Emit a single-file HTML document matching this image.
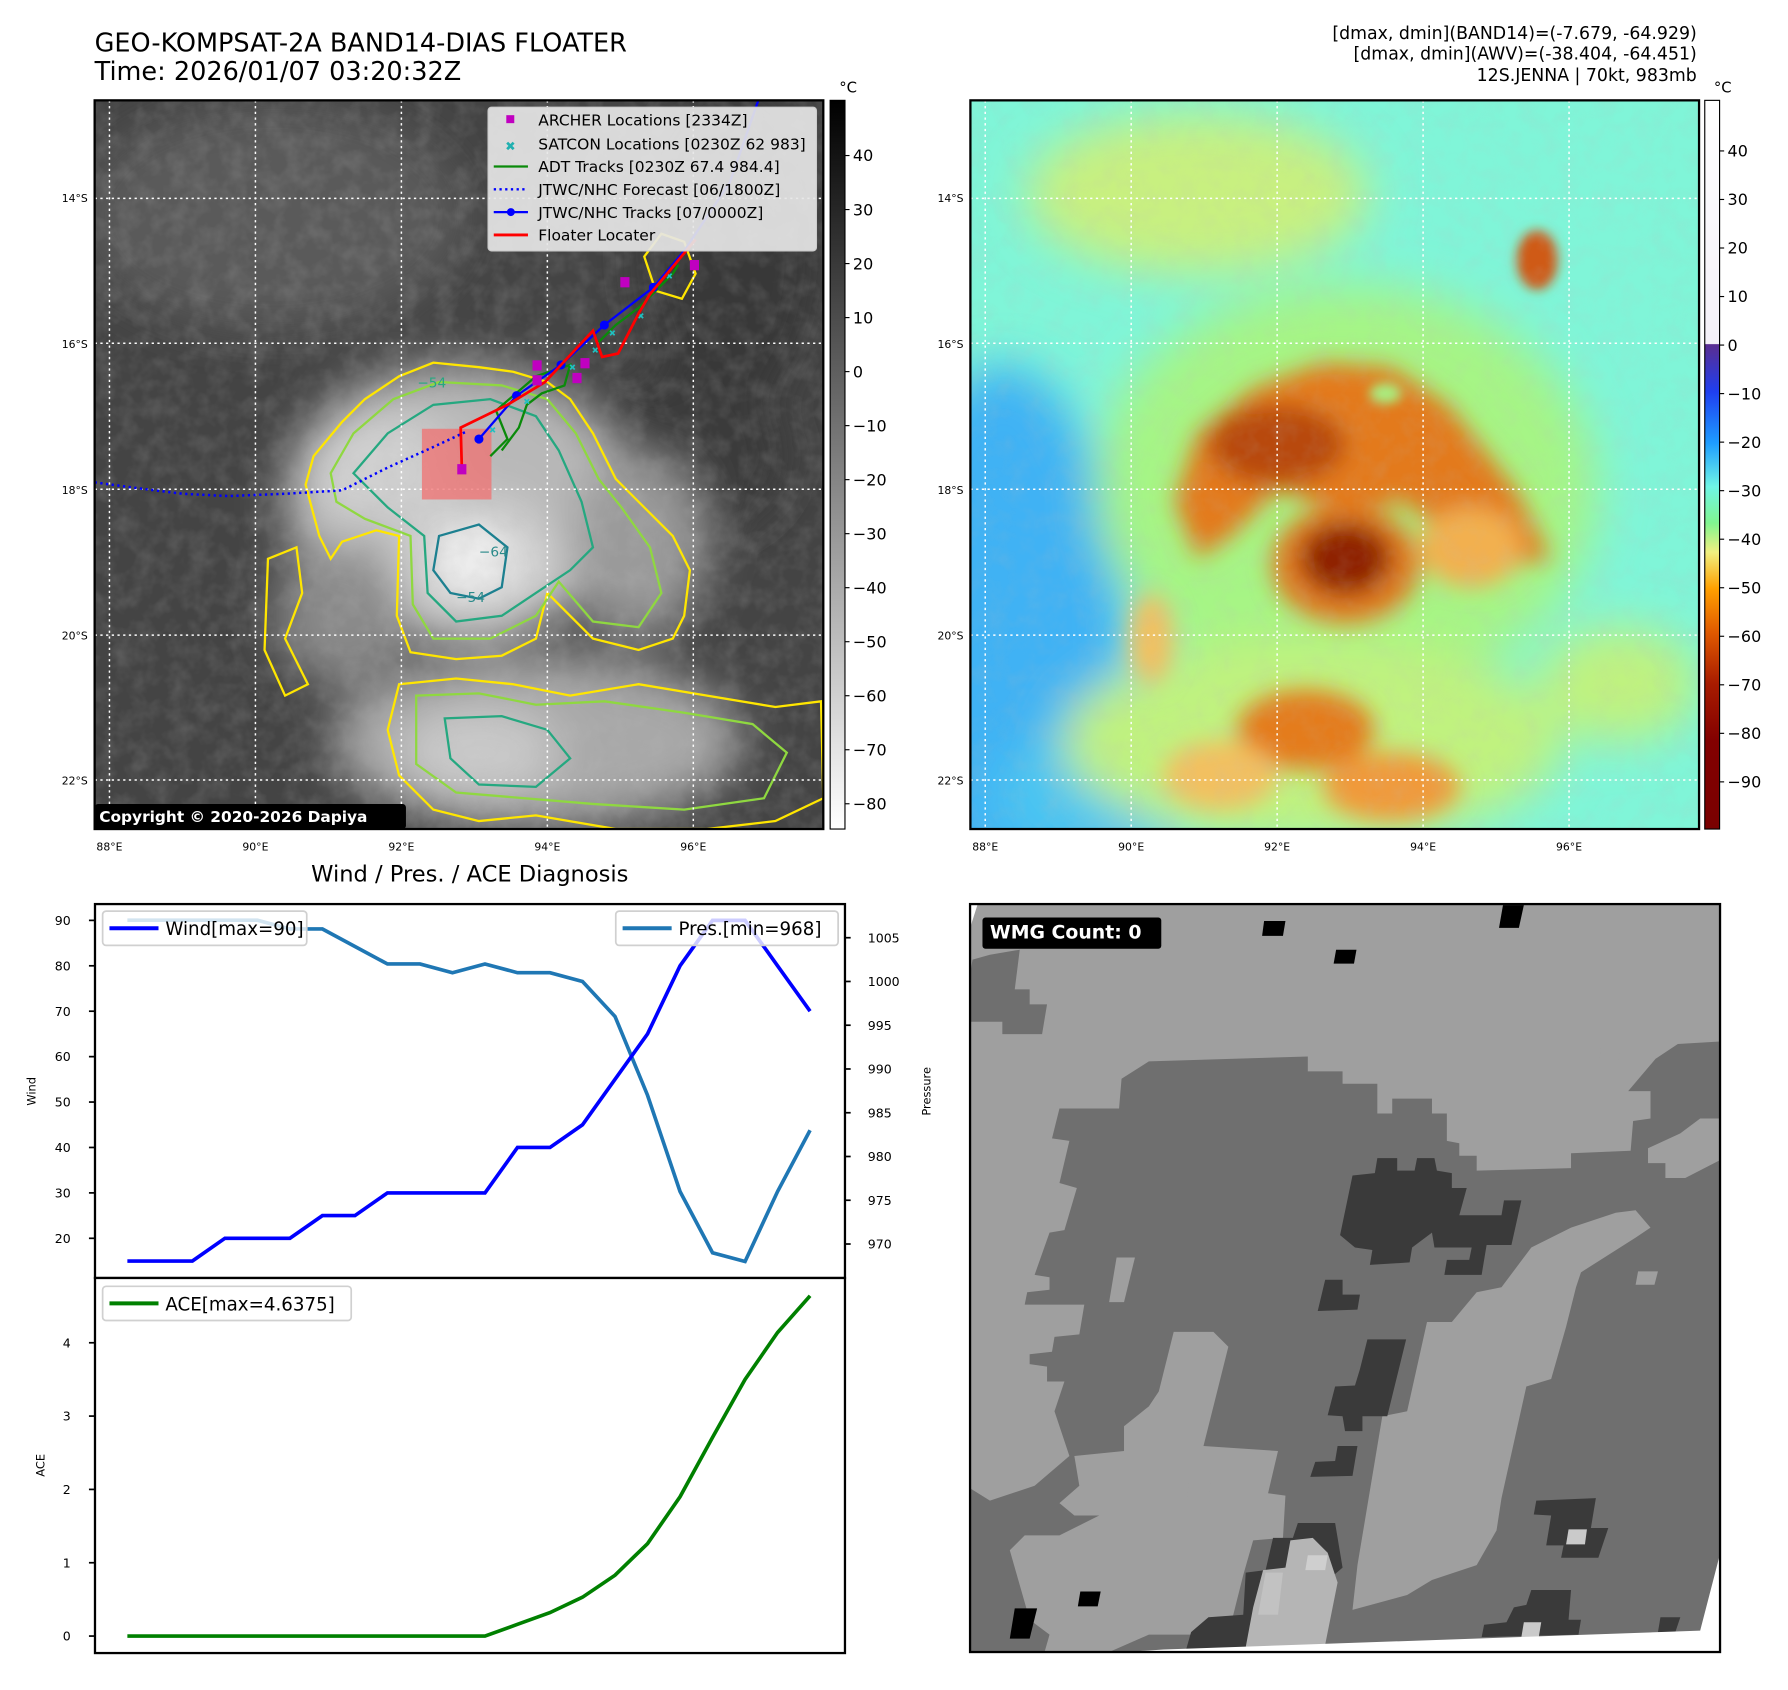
<!DOCTYPE html>
<html><head><meta charset="utf-8">
<style>
html,body{margin:0;padding:0;background:#fff;}
svg{display:block;font-family:"DejaVu Sans","Liberation Sans",sans-serif;}
</style></head>
<body>
<svg id="root" width="1788" height="1690" viewBox="0 0 1568 1482" preserveAspectRatio="none" xmlns="http://www.w3.org/2000/svg">
<defs>
 <filter id="b20" x="-50%" y="-50%" width="200%" height="200%"><feGaussianBlur stdDeviation="20"/></filter>
 <filter id="b10" x="-50%" y="-50%" width="200%" height="200%"><feGaussianBlur stdDeviation="10"/></filter>
 <filter id="b5" x="-50%" y="-50%" width="200%" height="200%"><feGaussianBlur stdDeviation="5"/></filter>
 <filter id="tex"><feTurbulence type="fractalNoise" baseFrequency="0.06" numOctaves="3" seed="4"/><feColorMatrix type="matrix" values="0 0 0 0 0.5 0 0 0 0 0.5 0 0 0 0 0.5 0 0 0 1.2 -0.45"/></filter>
 <clipPath id="c1"><rect x="83" y="88" width="639" height="639"/></clipPath>
 <clipPath id="c2"><rect x="851" y="88" width="639" height="639"/></clipPath>
 <linearGradient id="gcb1" x1="0" y1="0" x2="0" y2="1"><stop offset="0" stop-color="#000"/><stop offset="1" stop-color="#fff"/></linearGradient>
 <linearGradient id="gcb2" x1="0" y1="0" x2="0" y2="1">
  <stop offset="0" stop-color="#ffffff"/><stop offset="0.334" stop-color="#f4f0f8"/>
  <stop offset="0.335" stop-color="#5a2d91"/><stop offset="0.40" stop-color="#1f3ff0"/>
  <stop offset="0.47" stop-color="#1e9cff"/><stop offset="0.53" stop-color="#6ff5e6"/>
  <stop offset="0.58" stop-color="#80f590"/><stop offset="0.62" stop-color="#f0f080"/>
  <stop offset="0.67" stop-color="#ffa000"/><stop offset="0.73" stop-color="#e05a00"/>
  <stop offset="0.80" stop-color="#a81c00"/><stop offset="0.88" stop-color="#820000"/><stop offset="1" stop-color="#7a0000"/>
 </linearGradient>
</defs>

<text x="83" y="45" font-size="22.4" fill="#000">GEO-KOMPSAT-2A BAND14-DIAS FLOATER</text>
<text x="83" y="70" font-size="22.4" fill="#000">Time: 2026/01/07 03:20:32Z</text>
<g font-size="15.2" text-anchor="end">
 <text x="1488" y="34">[dmax, dmin](BAND14)=(-7.679, -64.929)</text>
 <text x="1488" y="52">[dmax, dmin](AWV)=(-38.404, -64.451)</text>
 <text x="1488" y="71">12S.JENNA | 70kt, 983mb</text>
</g>

<g clip-path="url(#c1)">
 <rect x="83" y="88" width="639" height="639" fill="#444"/>
 <g filter="url(#b20)">
  <ellipse cx="240" cy="190" rx="170" ry="100" fill="#5a5a5a"/>
  <ellipse cx="640" cy="220" rx="80" ry="140" fill="#383838"/>
  <ellipse cx="600" cy="400" rx="90" ry="70" fill="#3a3a3a"/>
  <ellipse cx="400" cy="440" rx="150" ry="120" fill="#b8b8b8"/>
  <ellipse cx="330" cy="410" rx="70" ry="50" fill="#d0d0d0"/>
  <ellipse cx="420" cy="500" rx="70" ry="60" fill="#d8d8d8"/>
  <ellipse cx="560" cy="480" rx="60" ry="80" fill="#9a9a9a"/>
  <ellipse cx="300" cy="540" rx="60" ry="60" fill="#8a8a8a"/>
  <ellipse cx="470" cy="650" rx="180" ry="75" fill="#a8a8a8"/>
  <ellipse cx="420" cy="660" rx="70" ry="40" fill="#cacaca"/>
 </g>
 <ellipse cx="415" cy="490" rx="30" ry="28" fill="#ececec" filter="url(#b10)"/>
 <rect x="83" y="88" width="639" height="639" filter="url(#tex)" opacity="0.3"/>
 <g fill="none" stroke-width="2">
  <path d="M268,425 L275,400 L300,370 L320,350 L350,330 L380,318 L420,322 L450,326 L480,335 L500,350 L520,380 L540,420 L560,440 L590,470 L605,500 L600,540 L590,560 L560,570 L520,560 L500,540 L480,520 L470,560 L440,575 L400,578 L360,572 L348,540 L350,470 L330,465 L300,475 L290,490 L280,470 Z" stroke="#ffe600"/>
  <path d="M290,415 L310,380 L345,350 L385,335 L440,338 L480,350 L505,380 L525,420 L545,445 L570,480 L580,520 L560,550 L520,545 L490,510 L470,540 L430,560 L380,560 L362,530 L360,470 L320,455 L295,440 Z" stroke="#8fd840"/>
  <path d="M310,415 L340,380 L380,355 L430,350 L470,365 L490,395 L510,440 L520,480 L500,500 L470,520 L440,540 L400,545 L375,520 L372,470 L340,445 Z" stroke="#25a880"/>
  <path d="M385,470 L420,460 L445,480 L440,515 L420,525 L395,520 L380,500 Z" stroke="#1c8090"/>
  <path d="M235,490 L260,480 L265,520 L250,560 L270,600 L250,610 L232,570 Z" stroke="#ffe600"/>
  <path d="M350,600 L400,595 L450,600 L500,610 L560,600 L620,610 L680,620 L720,615 L722,700 L680,720 L620,727 L540,727 L470,715 L420,720 L380,710 L350,680 L340,640 Z" stroke="#ffe600"/>
  <path d="M365,610 L420,608 L470,618 L530,615 L600,625 L660,635 L690,660 L670,700 L600,710 L520,705 L460,700 L400,695 L365,670 Z" stroke="#8fd840"/>
  <path d="M390,630 L440,628 L480,640 L500,665 L470,690 L420,688 L395,665 Z" stroke="#25a880"/>
  <path d="M565,225 L580,205 L600,212 L610,240 L598,262 L575,255 Z" stroke="#ffe600"/>
 </g>
 <g font-size="12" fill="#2a8a8a"><text x="420" y="488">−64</text><text x="400" y="528">−54</text><text x="366" y="340" fill="#25a880">−54</text></g>
 <g stroke="#fff" stroke-width="1.3" stroke-dasharray="2,3">
  <line x1="96" y1="88" x2="96" y2="727"/><line x1="224" y1="88" x2="224" y2="727"/><line x1="352" y1="88" x2="352" y2="727"/><line x1="480" y1="88" x2="480" y2="727"/><line x1="608" y1="88" x2="608" y2="727"/>
  <line x1="83" y1="174" x2="722" y2="174"/><line x1="83" y1="301" x2="722" y2="301"/><line x1="83" y1="429" x2="722" y2="429"/><line x1="83" y1="557" x2="722" y2="557"/><line x1="83" y1="684" x2="722" y2="684"/>
 </g>
 <rect x="370" y="376" width="61" height="62" fill="#f07070" opacity="0.75"/>
 <polyline points="83,423 120,428 160,433 200,435 250,433 300,430 340,410 380,392 410,378" fill="none" stroke="#0000ff" stroke-width="2.2" stroke-dasharray="2,3"/>
 <polyline points="430,400 445,385 435,360 470,330 500,320 495,338 475,345 462,355 455,375 440,395" fill="none" stroke="#0a8a0a" stroke-width="2"/>
 <polyline points="525,300 540,285 560,270 575,255 590,240 595,232" fill="none" stroke="#0a8a0a" stroke-width="2"/>
 <g stroke="#20c0c0" stroke-width="1.5">
  <path d="M430,375 l4,4 m0,-4 l-4,4 M470,335 l4,4 m0,-4 l-4,4 M500,320 l4,4 m0,-4 l-4,4 M520,305 l4,4 m0,-4 l-4,4 M535,290 l4,4 m0,-4 l-4,4 M560,275 l4,4 m0,-4 l-4,4 M585,240 l4,4 m0,-4 l-4,4 M460,350 l4,4 m0,-4 l-4,4"/>
 </g>
 <polyline points="420,385 453,347 492,320 530,285 573,252 600,220 640,160 665,88" fill="none" stroke="#0000ff" stroke-width="2"/>
 <g fill="#0000ff"><circle cx="420" cy="385" r="4"/><circle cx="453" cy="347" r="4"/><circle cx="492" cy="320" r="4"/><circle cx="530" cy="285" r="4"/><circle cx="573" cy="252" r="4"/></g>
 <polyline points="405,410 404,375 445,355 478,335 520,290 528,313 542,310 560,275 570,258 575,252 595,228 610,210" fill="none" stroke="#ff0000" stroke-width="2.4"/>
 <g fill="#c000c0">
  <rect x="544" y="243" width="8" height="9"/><rect x="605" y="228" width="8" height="9"/><rect x="467" y="316" width="8" height="9"/><rect x="467" y="329" width="8" height="9"/><rect x="502" y="327" width="8" height="9"/><rect x="509" y="314" width="8" height="9"/><rect x="401" y="407" width="8" height="9"/>
 </g>
 <g>
  <rect x="428" y="94" width="288" height="126" rx="3" fill="#e6e6e6" fill-opacity="0.92" stroke="#cccccc"/>
  <g font-size="13.6" fill="#000">
   <rect x="444" y="101" width="7" height="7" fill="#c000c0"/><text x="472" y="110">ARCHER Locations [2334Z]</text>
   <text x="443" y="132" fill="#20b0b0" font-size="11">✖</text><text x="472" y="131">SATCON Locations [0230Z 62 983]</text>
   <line x1="433" y1="146" x2="463" y2="146" stroke="#0a8a0a" stroke-width="2"/><text x="472" y="151">ADT Tracks [0230Z 67.4 984.4]</text>
   <line x1="433" y1="166" x2="463" y2="166" stroke="#0000ff" stroke-width="2" stroke-dasharray="2,3"/><text x="472" y="171">JTWC/NHC Forecast [06/1800Z]</text>
   <line x1="433" y1="186" x2="463" y2="186" stroke="#0000ff" stroke-width="2"/><circle cx="448" cy="186" r="3.5" fill="#0000ff"/><text x="472" y="191">JTWC/NHC Tracks [07/0000Z]</text>
   <line x1="433" y1="206" x2="463" y2="206" stroke="#ff0000" stroke-width="2.5"/><text x="472" y="211">Floater Locater</text>
  </g>
 </g>
 <rect x="83" y="705" width="273" height="22" rx="3" fill="#000"/>
 <text x="87" y="721" font-size="13.5" font-weight="bold" fill="#fff">Copyright © 2020-2026 Dapiya</text>
</g>
<rect x="83" y="88" width="639" height="639" fill="none" stroke="#000" stroke-width="2"/>

<g clip-path="url(#c2)">
 <rect x="851" y="88" width="639" height="639" fill="#80f5d8"/>
 <g filter="url(#b20)">
  <ellipse cx="880" cy="600" rx="110" ry="280" fill="#3fb2f4"/>
  <ellipse cx="960" cy="700" rx="90" ry="60" fill="#4ac4f2"/>
  <ellipse cx="1050" cy="170" rx="150" ry="70" fill="#c8f080"/>
  <ellipse cx="1180" cy="430" rx="220" ry="180" fill="#a6f585"/>
  <ellipse cx="1150" cy="650" rx="220" ry="90" fill="#c0f27f"/>
  <ellipse cx="1420" cy="600" rx="70" ry="50" fill="#c0f27f"/>
 </g>
 <g filter="url(#b10)">
  <path d="M1030,440 L1050,380 L1100,340 L1160,318 L1220,322 L1270,355 L1330,430 L1360,490 L1300,500 L1270,470 L1230,440 L1180,450 L1120,430 L1080,470 L1050,490 Z" fill="#e37a1c"/>
  <ellipse cx="1180" cy="495" rx="65" ry="52" fill="#e07a20"/>
  <ellipse cx="1120" cy="390" rx="60" ry="35" fill="#b84a10"/>
  <ellipse cx="1180" cy="490" rx="40" ry="32" fill="#8f2204"/>
  <ellipse cx="1145" cy="640" rx="60" ry="35" fill="#e47c1e"/>
  <ellipse cx="1220" cy="690" rx="60" ry="30" fill="#f09a3a"/>
  <ellipse cx="1070" cy="680" rx="50" ry="30" fill="#f2c060"/>
  <ellipse cx="1010" cy="560" rx="20" ry="40" fill="#f2c060"/>
  <ellipse cx="1290" cy="480" rx="45" ry="35" fill="#f2b050"/>
 </g>
 <ellipse cx="1348" cy="228" rx="18" ry="26" fill="#cf5a12" filter="url(#b5)"/>
 <ellipse cx="1215" cy="345" rx="14" ry="9" fill="#a8f080" filter="url(#b5)"/>
 <rect x="851" y="88" width="639" height="639" filter="url(#tex)" opacity="0.2"/>
 <g stroke="#fff" stroke-width="1.3" stroke-dasharray="2,3">
  <line x1="864" y1="88" x2="864" y2="727"/><line x1="992" y1="88" x2="992" y2="727"/><line x1="1120" y1="88" x2="1120" y2="727"/><line x1="1248" y1="88" x2="1248" y2="727"/><line x1="1376" y1="88" x2="1376" y2="727"/>
  <line x1="851" y1="174" x2="1490" y2="174"/><line x1="851" y1="301" x2="1490" y2="301"/><line x1="851" y1="429" x2="1490" y2="429"/><line x1="851" y1="557" x2="1490" y2="557"/><line x1="851" y1="684" x2="1490" y2="684"/>
 </g>
</g>
<rect x="851" y="88" width="639" height="639" fill="none" stroke="#000" stroke-width="2"/>

<g font-size="9.5" fill="#000">
 <g text-anchor="end"><text x="77" y="177">14°S</text><text x="77" y="305">16°S</text><text x="77" y="433">18°S</text><text x="77" y="561">20°S</text><text x="77" y="688">22°S</text>
 <text x="845" y="177">14°S</text><text x="845" y="305">16°S</text><text x="845" y="433">18°S</text><text x="845" y="561">20°S</text><text x="845" y="688">22°S</text></g>
 <g text-anchor="middle"><text x="96" y="746">88°E</text><text x="224" y="746">90°E</text><text x="352" y="746">92°E</text><text x="480" y="746">94°E</text><text x="608" y="746">96°E</text>
 <text x="864" y="746">88°E</text><text x="992" y="746">90°E</text><text x="1120" y="746">92°E</text><text x="1248" y="746">94°E</text><text x="1376" y="746">96°E</text></g>
</g>

<g>
 <rect x="728" y="88" width="13" height="639" fill="url(#gcb1)" stroke="#000" stroke-width="1"/>
 <text x="736" y="81" font-size="13">°C</text>
 <g id="cb1ticks" font-size="14"></g>
</g>
<g>
 <rect x="1495" y="88" width="13" height="639" fill="url(#gcb2)" stroke="#000" stroke-width="1"/>
 <text x="1503" y="81" font-size="13">°C</text>
 <g id="cb2ticks" font-size="14"></g>
</g>

<text x="412" y="773" font-size="19.8" text-anchor="middle">Wind / Pres. / ACE Diagnosis</text>
<g id="chart"></g>

<svg x="850.7" y="792.8" width="657.7" height="655.9" viewBox="20 28 1510 1507" preserveAspectRatio="none">
 <rect x="20" y="28" width="1510" height="1507" fill="#6f6f6f"/>
 <g fill="#9f9f9f">
  <polygon points="20,28 1530,28 1530,305 1445,310 1400,340 1345,405 1390,405 1390,460 1355,465 1350,525 1230,530 1230,560 1040,565 1040,535 1005,535 1005,510 980,505 980,450 950,450 950,420 870,420 870,450 840,450 840,390 770,390 770,365 700,365 700,335 380,345 325,380 320,440 200,440 185,500 220,505 200,590 235,600 210,685 180,690 150,775 180,780 180,805 135,810 130,835 250,835 240,895 190,900 185,930 140,935 140,955 175,960 175,990 210,990 190,1050 220,1140 150,1200 60,1230 20,1205 20,265 85,265 85,290 165,290 175,230 140,230 140,200 110,200 120,120 60,130 25,140 20,170"/>
  <polygon points="230,1140 330,1130 330,1080 380,1040 400,1010 430,890 510,890 540,920 490,1120 640,1130 620,1215 655,1220 650,1305 590,1310 570,1380 540,1500 380,1500 300,1535 170,1535 180,1500 140,1470 100,1330 130,1300 200,1300 280,1260 230,1260 200,1235 240,1200"/>
  <polygon points="940,870 990,870 1040,810 1090,800 1150,720 1230,680 1320,650 1360,645 1390,680 1360,700 1250,770 1240,800 1220,880 1190,985 1140,1000 1090,1225 1080,1290 1040,1360 950,1390 900,1420 790,1450 800,1360 850,1060 900,1050"/>
  <polygon points="1385,520 1450,490 1490,460 1528,460 1528,545 1460,580 1420,580 1420,550 1385,550"/>
  <polygon points="1290,315 1330,315 1325,342 1287,342"/><polygon points="1365,768 1405,768 1398,795 1360,795"/>
  <polygon points="460,1195 505,1195 500,1222 457,1222"/><polygon points="315,740 352,740 330,830 300,830"/>
 </g>
 <g fill="#3a3a3a">
  <polygon points="790,575 835,570 840,540 880,540 880,565 915,565 920,540 955,540 960,565 990,570 990,600 1020,600 1005,655 1090,655 1095,625 1130,625 1110,715 1060,715 1050,775 975,775 980,745 1025,745 1030,720 955,720 950,690 910,720 905,750 825,755 830,725 795,720 765,695"/>
  <polygon points="735,785 770,785 770,815 805,815 800,845 720,848"/>
  <polygon points="820,905 898,905 860,1060 810,1060 810,1090 775,1090 770,1060 740,1058 755,1000 795,998 805,965"/>
  <polygon points="760,1120 800,1120 790,1180 705,1182 715,1152 755,1150"/>
  <polygon points="680,1275 755,1275 770,1365 735,1395 730,1520 560,1530 455,1530 465,1495 500,1465 570,1460 575,1375 615,1370 630,1305 670,1305"/>
  <polygon points="1160,1230 1280,1225 1270,1285 1305,1285 1285,1345 1210,1345 1215,1320 1180,1320 1190,1260 1155,1258"/>
  <polygon points="1150,1410 1230,1410 1225,1470 1250,1470 1245,1500 1050,1505 1055,1480 1100,1475 1115,1445 1140,1440"/>
  <polygon points="1410,1465 1450,1465 1440,1495 1405,1495"/>
 </g>
 <polygon points="665,1310 710,1305 740,1335 760,1395 735,1520 575,1525 590,1445 610,1370 655,1365" fill="#b5b5b5"/>
 <polygon points="700,1340 740,1340 735,1370 695,1370" fill="#cfcfcf"/><polygon points="615,1375 650,1375 640,1460 600,1460" fill="#c2c2c2"/>
 <polygon points="1225,1288 1262,1288 1258,1318 1220,1318" fill="#cacaca"/><polygon points="1135,1475 1170,1475 1165,1505 1130,1505" fill="#cacaca"/>
 <g fill="#000">
  <polygon points="612,62 655,62 650,92 608,92"/><polygon points="757,120 798,120 793,148 752,148"/><polygon points="1093,30 1135,30 1125,76 1085,76"/>
  <polygon points="242,1413 283,1413 277,1443 237,1443"/><polygon points="110,1447 155,1447 140,1508 100,1508"/>
 </g>
 <polygon points="1528,1345 1532,1537 300,1537 410,1530 1490,1492" fill="#fff"/>
 <polygon points="18,26 36,26 22,70 18,70" fill="#fff"/>
 <rect x="45" y="55" width="360" height="63" rx="6" fill="#000"/>
 <text x="60" y="97" font-size="38" font-weight="bold" fill="#fff">WMG Count: 0</text>
</svg>
<rect x="850.7" y="792.8" width="657.7" height="655.9" fill="none" stroke="#000" stroke-width="2"/>
</svg>

<script>
const windValues = [15,15,15,20,20,20,25,25,30,30,30,30,40,40,45,55,65,80,90,90,80,70];
const presValues = [1007,1007,1007,1007,1007,1006,1006,1004,1002,1002,1001,1002,1001,1001,1000,996,987,976,969,968,976,983];
const aceValues = [0,0,0,0,0,0,0,0,0,0,0,0,0.16,0.32,0.53,0.83,1.26,1.9,2.71,3.5,4.14,4.64];
const windTicks = [20,30,40,50,60,70,80,90];
const presTicks = [970,975,980,985,990,995,1000,1005];
const aceTicks = [0,1,2,3,4];
const cb1Ticks = [40,30,20,10,0,-10,-20,-30,-40,-50,-60,-70,-80];
const cb2Ticks = [40,30,20,10,0,-10,-20,-30,-40,-50,-60,-70,-80,-90];

const NS = 'http://www.w3.org/2000/svg';
function mk(tag, attrs, parent){const e=document.createElementNS(NS,tag);for(const k in attrs)e.setAttribute(k,attrs[k]);parent.appendChild(e);return e;}
const xS = i => 111.7 + i*(598.7/(windValues.length-1));
const yW = w => 807.1 + (90-w)*(278.8/70);
const yP = p => 822.3 + (1005-p)*(268.6/35);
const yA = a => 1434.7 - a*64.3;
const chart = document.getElementById('chart');

const cb1 = document.getElementById('cb1ticks');
cb1Ticks.forEach(v=>{const y=136.4+(40-v)*4.737;
 mk('line',{x1:741,y1:y,x2:745,y2:y,stroke:'#000'},cb1);
 const t=mk('text',{x:748,y:y+5},cb1);t.textContent=(v<0?'\u2212'+(-v):v);});
const cb2 = document.getElementById('cb2ticks');
cb2Ticks.forEach(v=>{const y=302.6+(-v)*4.256;
 mk('line',{x1:1508,y1:y,x2:1512,y2:y,stroke:'#000'},cb2);
 const t=mk('text',{x:1515,y:y+5},cb2);t.textContent=(v<0?'\u2212'+(-v):v);});

mk('rect',{x:83.3,y:792.8,width:657.7,height:327.9,fill:'#fff',stroke:'#000','stroke-width':2},chart);
mk('rect',{x:83.3,y:1120.7,width:657.7,height:328.9,fill:'#fff',stroke:'#000','stroke-width':2},chart);
const tg = mk('g',{'font-size':11,fill:'#000'},chart);
windTicks.forEach(v=>{const y=yW(v);mk('line',{x1:78,y1:y,x2:83,y2:y,stroke:'#000','stroke-width':1.5},tg);
 const t=mk('text',{x:62,y:y+4,'text-anchor':'end'},tg);t.textContent=v;});
presTicks.forEach(v=>{const y=yP(v);mk('line',{x1:741,y1:y,x2:746,y2:y,stroke:'#000','stroke-width':1.5},tg);
 const t=mk('text',{x:761,y:y+4},tg);t.textContent=v;});
aceTicks.forEach(v=>{const y=yA(v);mk('line',{x1:78,y1:y,x2:83,y2:y,stroke:'#000','stroke-width':1.5},tg);
 const t=mk('text',{x:62,y:y+4,'text-anchor':'end'},tg);t.textContent=v;});
const wl=mk('text',{x:31,y:957,'font-size':10,transform:'rotate(-90 31 957)','text-anchor':'middle'},chart);wl.textContent='Wind';


const pl=mk('text',{x:816,y:957,'font-size':10,transform:'rotate(-90 816 957)','text-anchor':'middle'},chart);pl.textContent='Pressure';


const al=mk('text',{x:39,y:1285,'font-size':10,transform:'rotate(-90 39 1285)','text-anchor':'middle'},chart);al.textContent='ACE';



const pp = mk('polyline',{points:presValues.map((v,i)=>xS(i)+','+yP(v)).join(' '),fill:'none',stroke:'#1f77b4','stroke-width':3.2},chart);


const wp = mk('polyline',{points:windValues.map((v,i)=>xS(i)+','+yW(v)).join(' '),fill:'none',stroke:'#0000ff','stroke-width':3.2},chart);


const ap = mk('polyline',{points:aceValues.map((v,i)=>xS(i)+','+yA(v)).join(' '),fill:'none',stroke:'#008000','stroke-width':3.2},chart);



function legend(x,y,w,color,label,name){
 const g=mk('g',{},chart);
 
 
 mk('rect',{x:x,y:y,width:w,height:30,rx:3,fill:'#fff','fill-opacity':0.8,stroke:'#d0d0d0','stroke-width':1.5},g);
 mk('line',{x1:x+6,y1:y+15,x2:x+49,y2:y+15,stroke:color,'stroke-width':3.5},g);
 const t=mk('text',{x:x+55,y:y+21,'font-size':16},g);t.textContent=label;
}
legend(90,799,179,'#0000ff','Wind[max=90]','wind-legend');
legend(540,799,195,'#1f77b4','Pres.[min=968]','pressure-legend');
legend(90,1128,218,'#008000','ACE[max=4.6375]','ace-legend');
</script>
</body></html>
